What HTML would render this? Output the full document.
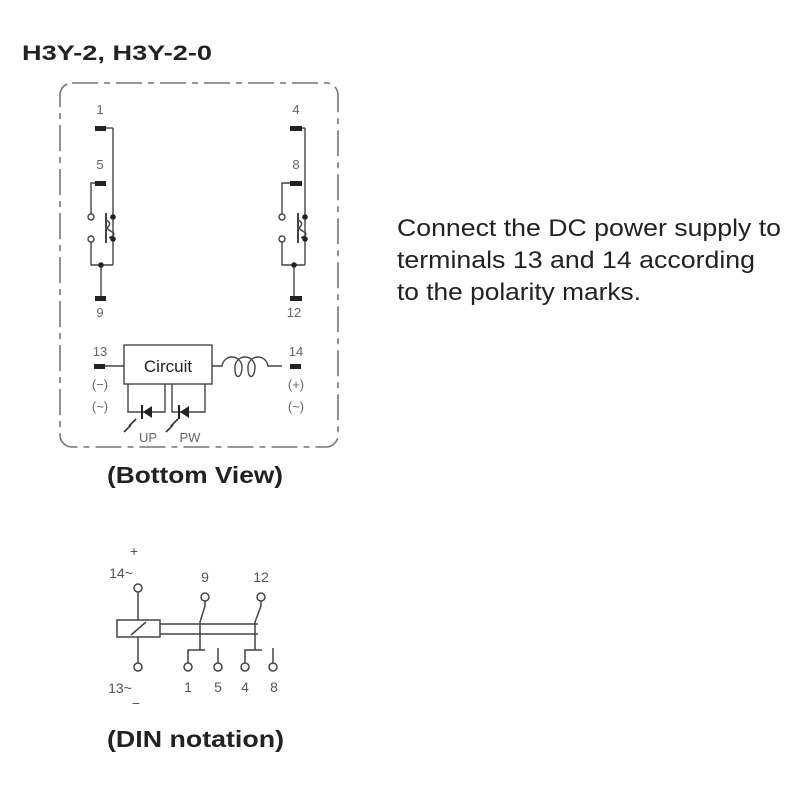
<!DOCTYPE html>
<html><head><meta charset="utf-8"><style>
html,body{margin:0;padding:0;background:#fff;}
svg{display:block;}
text{font-family:"Liberation Sans",Arial,sans-serif;}
</style></head><body>
<svg width="800" height="800" viewBox="0 0 800 800" xmlns="http://www.w3.org/2000/svg">
<rect width="800" height="800" fill="#fff"/>
<text x="22" y="60" font-size="21" font-weight="bold" fill="#222" textLength="190" lengthAdjust="spacingAndGlyphs">H3Y-2, H3Y-2-0</text>

<rect x="60" y="83" width="278" height="364" rx="12" fill="none" stroke="#777" stroke-width="1.6" stroke-dasharray="26,6,6,6"/>

<g stroke="#444" stroke-width="1.4" fill="none">
<line x1="105" y1="128" x2="113" y2="128"/><line x1="113" y1="128" x2="113" y2="265"/>
<polyline points="95,183 91,183 91,214"/>
<circle cx="91" cy="217" r="3" fill="#fff"/><circle cx="91" cy="239" r="3" fill="#fff"/>
<polyline points="91,242 91,265 113,265"/>
<line x1="101" y1="265" x2="101" y2="298"/>
<line x1="106" y1="213" x2="106" y2="243" stroke-width="2"/>
<path d="M106,220 q5,2 3,6 q-4,2 3,6 q5,2 -3,6"/>
<line x1="302" y1="128" x2="305" y2="128"/><line x1="305" y1="128" x2="305" y2="265"/>
<polyline points="292,183 282,183 282,214"/>
<circle cx="282" cy="217" r="3" fill="#fff"/><circle cx="282" cy="239" r="3" fill="#fff"/>
<polyline points="282,242 282,265 305,265"/>
<line x1="294" y1="265" x2="294" y2="298"/>
<line x1="298" y1="213" x2="298" y2="243" stroke-width="2"/>
<path d="M298,220 q5,2 3,6 q-4,2 3,6 q5,2 -3,6"/>
<line x1="105" y1="366" x2="124" y2="366"/>
<rect x="124" y="345" width="88" height="39"/>
<path d="M212,366 h10 c2,-12 18,-12 20,0 c0,14 -8,14 -7,0 c2,-12 18,-12 20,0 c0,14 -8,14 -7,0 c2,-12 18,-12 20,0 h14"/>
<polyline points="128,384 128,412 165,412 165,384"/>
<polyline points="172,384 172,412 205,412 205,384"/>
</g>
<g fill="#222">
<rect x="95" y="126" width="11" height="5"/><rect x="95" y="181" width="11" height="5"/><rect x="95" y="296" width="11" height="5"/>
<rect x="290" y="126" width="12" height="5"/><rect x="290" y="181" width="12" height="5"/><rect x="290" y="296" width="12" height="5"/>
<rect x="94" y="364" width="11" height="5"/><rect x="290" y="364" width="11" height="5"/>
<circle cx="113" cy="217" r="2.8"/><circle cx="113" cy="239" r="2.8"/><circle cx="101" cy="265" r="2.8"/>
<circle cx="305" cy="217" r="2.8"/><circle cx="305" cy="239" r="2.8"/><circle cx="294" cy="265" r="2.8"/>
<polygon points="143,412 152,406 152,418"/><rect x="141" y="405" width="2" height="14"/>
<polygon points="180,412 189,406 189,418"/><rect x="178" y="405" width="2" height="14"/>
</g>
<g stroke="#333" stroke-width="1.6">
<line x1="124" y1="432" x2="131" y2="425"/><line x1="129" y1="426" x2="136" y2="419"/>
<line x1="166" y1="432" x2="173" y2="425"/><line x1="171" y1="426" x2="178" y2="419"/>
</g>
<g font-size="13" fill="#666" text-anchor="middle">
<text x="100" y="114">1</text><text x="100" y="169">5</text><text x="100" y="317">9</text>
<text x="296" y="114">4</text><text x="296" y="169">8</text><text x="294" y="317">12</text>
<text x="100" y="356">13</text><text x="296" y="356">14</text>
<text x="100" y="389">(−)</text><text x="100" y="411">(~)</text>
<text x="296" y="389">(+)</text><text x="296" y="411">(~)</text>
<text x="148" y="442">UP</text><text x="190" y="442">PW</text>
</g>
<text x="168" y="372" font-size="17" fill="#222" text-anchor="middle">Circuit</text>

<text x="107" y="483" font-size="23" font-weight="bold" fill="#222" textLength="176" lengthAdjust="spacingAndGlyphs">(Bottom View)</text>

<g font-size="24" fill="#222">
<text x="397" y="236" textLength="384" lengthAdjust="spacingAndGlyphs">Connect the DC power supply to</text>
<text x="397" y="268" textLength="358" lengthAdjust="spacingAndGlyphs">terminals 13 and 14 according</text>
<text x="397" y="300" textLength="244" lengthAdjust="spacingAndGlyphs">to the polarity marks.</text>
</g>

<g stroke="#444" stroke-width="1.5" fill="none">
<circle cx="138" cy="588" r="4"/>
<line x1="138" y1="592" x2="138" y2="620"/>
<rect x="117" y="620" width="43" height="17"/>
<line x1="131" y1="635" x2="146" y2="622"/>
<line x1="138" y1="637" x2="138" y2="663"/>
<circle cx="138" cy="667" r="4"/>
<line x1="160" y1="624" x2="258" y2="624"/><line x1="160" y1="634" x2="258" y2="634"/>
<circle cx="205" cy="597" r="4"/><circle cx="261" cy="597" r="4"/>
<polyline points="205,601 205,606 200,622 200,650"/>
<polyline points="261,601 261,606 255,622 255,650"/>
<polyline points="188,663 188,650 205,650"/>
<polyline points="245,663 245,650 262,650"/>
<line x1="218" y1="648" x2="218" y2="663"/><line x1="273" y1="648" x2="273" y2="663"/>
<circle cx="188" cy="667" r="4"/><circle cx="218" cy="667" r="4"/><circle cx="245" cy="667" r="4"/><circle cx="273" cy="667" r="4"/>
</g>
<g font-size="14" fill="#555" text-anchor="middle">
<text x="134" y="556">+</text>
<text x="121" y="578">14~</text>
<text x="205" y="582">9</text><text x="261" y="582">12</text>
<text x="120" y="693">13~</text>
<text x="136" y="708">−</text>
<text x="188" y="692">1</text><text x="218" y="692">5</text><text x="245" y="692">4</text><text x="274" y="692">8</text>
</g>
<text x="107" y="747" font-size="23" font-weight="bold" fill="#222" textLength="177" lengthAdjust="spacingAndGlyphs">(DIN notation)</text>
</svg>
</body></html>
